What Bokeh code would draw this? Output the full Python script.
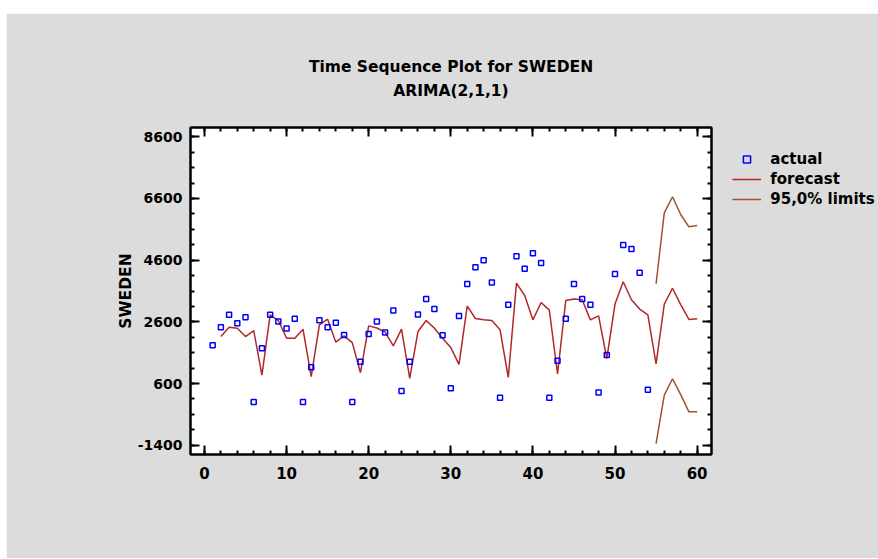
from bokeh.plotting import figure
from bokeh.models import (Range1d, FixedTicker, LinearAxis, Legend, LegendItem,
                          Title, CustomJSTickFormatter, Spacer)
from bokeh.layouts import column, row
from bokeh.embed import file_html
from bokeh.resources import INLINE
from bokeh.core.properties import value

# ---- data ----
t_actual = list(range(1, 55))
actual = [1842, 2427, 2828, 2557, 2752, 0, 1744, 2828, 2610, 2383,
          2698, 0, 1126, 2655, 2427, 2567, 2177, 0, 1310, 2210,
          2610, 2253, 2968, 356, 1310, 2838, 3340, 3018, 2166, 444,
          2790, 3826, 4366, 4594, 3879, 139, 3153, 4725, 4324, 4822,
          4508, 139, 1342, 2704, 3826, 3340, 3153, 313, 1527, 4151,
          5094, 4964, 4193, 398]

t_forecast = list(range(2, 61))
forecast = [2123, 2427, 2395, 2123, 2318, 876, 2828, 2643, 2069, 2069,
            2363, 821, 2502, 2687, 1940, 2145, 1927, 951, 2470, 2400,
            2265, 1820, 2363, 768, 2285, 2643, 2395, 2069, 1765, 1224,
            3110, 2708, 2665, 2643, 2340, 800, 3858, 3455, 2665, 3228,
            2980, 909, 3290, 3338, 3315, 2665, 2795, 1419, 3175, 3901,
            3315, 3013, 2828, 1240, 3175, 3690, 3160, 2680, 2700]

t_limits = list(range(55, 61))
upper = [3836, 6135, 6655, 6080, 5680, 5722]
lower = [-1345, 226, 756, 240, -317, -317]

x_ticks = [0, 10, 20, 30, 40, 50, 60]
x_minor = list(range(-2, 62, 2))
y_ticks = [-1400, 600, 2600, 4600, 6600, 8600]
y_tick_labels = ["-1400", "600", "2600", "4600", "6600", "8600"]
y_minor = list(range(-1900, 9000, 500))

title_text = "Time Sequence Plot for SWEDEN"
subtitle_text = "ARIMA(2,1,1)"
y_label = "SWEDEN"
legend_labels = ["actual", "forecast", "95,0% limits"]

FONT = "DejaVu Sans"
BG = "#DCDCDC"
BLUE = "#0000FF"
RED = "#B22828"
BROWN = "#A0522D"

p = figure(frame_width=521, frame_height=327,
           min_border_left=184, min_border_right=165,
           min_border_top=114, min_border_bottom=104,
           x_range=Range1d(-1.7, 61.75), y_range=Range1d(-1700, 8900),
           x_axis_type=None, y_axis_type=None,
           output_backend="svg", toolbar_location=None,
           background_fill_color="white", border_fill_color=BG)
p.outline_line_color = "black"
p.outline_line_width = 2


def style_axis(ax, show, size="14px"):
    ax.axis_line_width = 2
    ax.axis_line_color = "black"
    ax.major_tick_in = 9
    ax.major_tick_out = 0
    ax.minor_tick_in = 4
    ax.minor_tick_out = 0
    ax.major_tick_line_width = 2
    ax.minor_tick_line_width = 2
    ax.major_label_text_font = FONT
    ax.major_label_text_font_style = "bold"
    ax.major_label_text_font_size = size
    ax.major_label_text_color = "black"
    if not show:
        ax.formatter = CustomJSTickFormatter(code="return ''")
        ax.major_label_standoff = 0


xb = LinearAxis(ticker=FixedTicker(ticks=x_ticks, minor_ticks=x_minor))
style_axis(xb, True, "15px")
xb.major_label_standoff = 12
p.add_layout(xb, "below")

xt = LinearAxis(ticker=FixedTicker(ticks=x_ticks, minor_ticks=x_minor))
style_axis(xt, False)
p.add_layout(xt, "above")

yl = LinearAxis(ticker=FixedTicker(ticks=y_ticks, minor_ticks=y_minor))
style_axis(yl, True, "14px")
yl.major_label_overrides = {t: s for t, s in zip(y_ticks, y_tick_labels)}
yl.major_label_standoff = 8
yl.axis_label = y_label
yl.axis_label_text_font = FONT
yl.axis_label_text_font_style = "bold"
yl.axis_label_text_font_size = "15.5px"
yl.axis_label_text_color = "black"
yl.axis_label_standoff = 0
p.add_layout(yl, "left")

yr = LinearAxis(ticker=FixedTicker(ticks=y_ticks, minor_ticks=y_minor))
style_axis(yr, False)
p.add_layout(yr, "right")

r_fc = p.line(t_forecast, forecast, line_color=RED, line_width=1.5)
r_up = p.line(t_limits, upper, line_color=BROWN, line_width=1.5)
r_lo = p.line(t_limits, lower, line_color=BROWN, line_width=1.5)
r_act = p.scatter(t_actual, actual, marker="square", size=5,
                  line_color=BLUE, line_width=1.5, fill_color=None)

legend = Legend(items=[LegendItem(label=value(legend_labels[0]), renderers=[r_act]),
                       LegendItem(label=value(legend_labels[1]), renderers=[r_fc]),
                       LegendItem(label=value(legend_labels[2]), renderers=[r_up])],
                location=(-214, 246), orientation="vertical",
                background_fill_alpha=0, border_line_color=None,
                label_text_font=FONT, label_text_font_style="bold",
                label_text_font_size="15px", label_text_color="black",
                glyph_width=29, glyph_height=18, label_height=18,
                spacing=2, padding=0, margin=0, label_standoff=9)
p.add_layout(legend, "right")

# invisible spacer title to lift the two title lines
p.add_layout(Title(text=" ", text_font_size="1px", standoff=23), "above")
for txt in (subtitle_text, title_text):
    p.add_layout(Title(text=txt, align="center", text_font=FONT,
                       text_font_style="bold", text_font_size="15.5px",
                       text_color="black", standoff=4), "above")

layout = row(Spacer(width=6, height=559), column(Spacer(width=870, height=13), p))
open("out.html", "w").write(file_html(layout, INLINE))
